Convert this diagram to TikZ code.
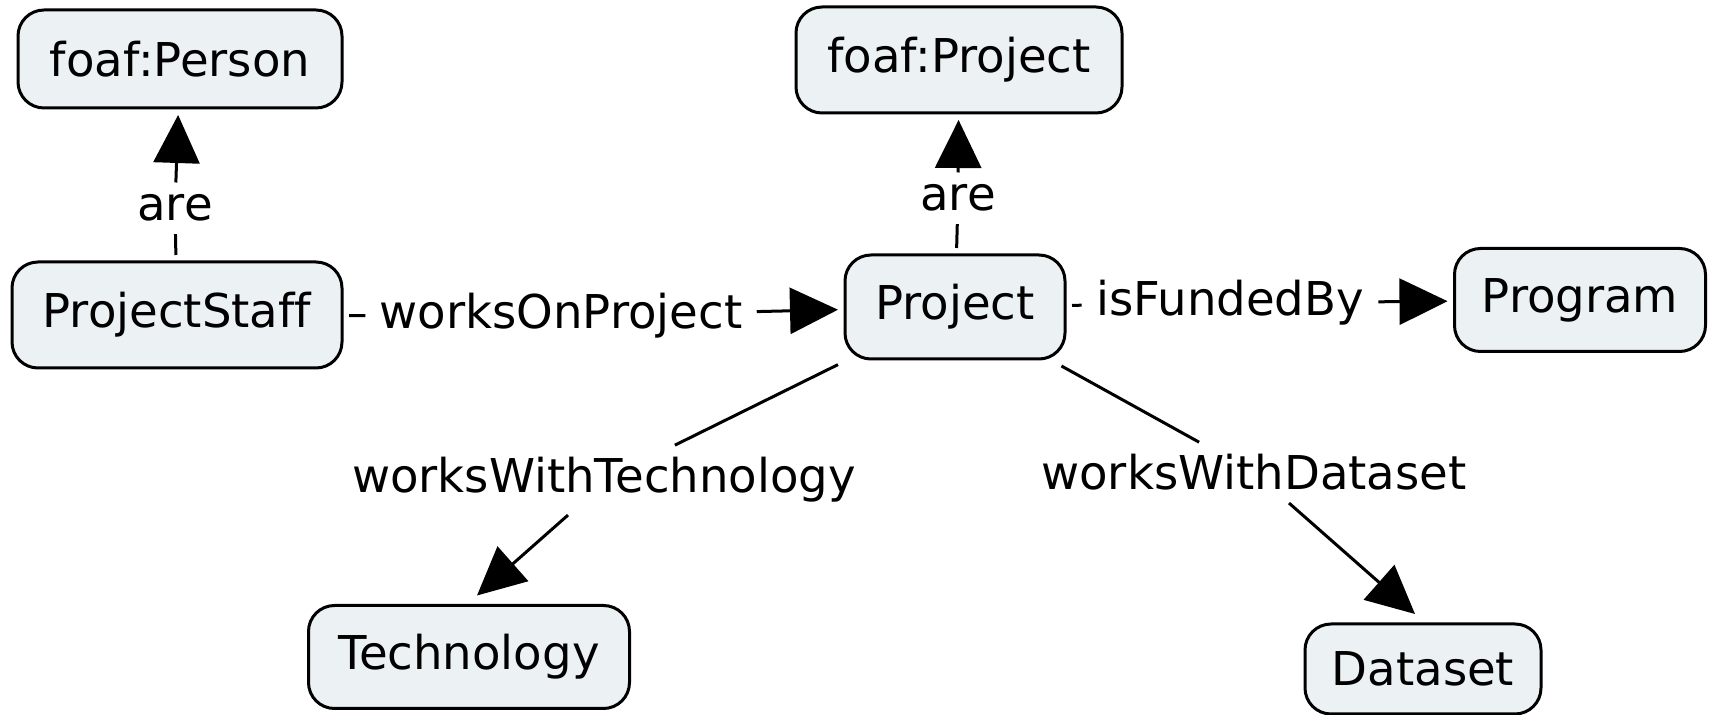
\documentclass[tikz,border=0pt]{standalone}
\usepackage{fontspec}
\setmainfont{DejaVu Sans}[Ligatures=NoCommon]
\usetikzlibrary{arrows.meta,calc}
\definecolor{cfill}{RGB}{236,242,244}
\begin{document}
\begin{tikzpicture}[x=0.5pt,y=-0.5pt,
  concept/.style={draw=black, line width=1.5pt, fill=cfill, rounded corners=13pt, inner sep=0pt, outer sep=3.5pt, font=\fontsize{23.3}{28}\selectfont},
  lbl/.style={inner xsep=7pt, inner ysep=6pt, anchor=base, font=\fontsize{23.3}{28}\selectfont},
  conn/.style={line width=1.5pt},
  arr/.style={conn, -{Triangle[length=24pt,width=23pt]}}]
\useasboundingbox (0,0) rectangle (1709,715);
% concepts
\node[concept, minimum width=162pt, minimum height=49pt] (fPerson) at (180,59) {foaf:Person};
\node[concept, minimum width=165pt, minimum height=53pt] (staff) at (177,315) {ProjectStaff};
\node[concept, minimum width=163pt, minimum height=53pt] (fProject) at (959,60) {foaf:Project};
\node[concept, minimum width=110pt, minimum height=52pt] (project) at (955,307) {Project};
\node[concept, minimum width=125.5pt, minimum height=51.5pt] (program) at (1580,300) {Program};
\node[concept, minimum width=160.5pt, minimum height=51.5pt] (tech) at (469,657) {Technology};
\node[concept, minimum width=118pt, minimum height=45pt] (dataset) at (1423,669) {Dataset};
% labels
\node[lbl] (are1) at (175,221) {are};
\node[lbl] (are2) at (958,211) {are};
\node[lbl] (wop) at (561,329) {worksOnProject};
\node[lbl] (ifb) at (1230,316) {isFundedBy};
\node[lbl] (wwt) at (604,493) {worksWithTechnology};
\node[lbl] (wwd) at (1254,490) {worksWithDataset};
% connectors
\draw[conn] (staff) -- (are1);
\draw[arr] (are1) -- (fPerson);
\draw[conn] (project) -- (are2);
\draw[arr] (are2) -- (fProject);
\draw[conn] (staff) -- (wop);
\draw[arr] (wop) -- (project);
\draw[conn] (project) -- (ifb);
\draw[arr] (ifb) -- (program);
\draw[conn] (project) -- (wwt);
\draw[arr] ($(wwt.south)+(-36,0)$) -- ($(tech.north)+(8,-3)$);
\draw[conn] (project) -- (wwd);
\draw[arr] ($(wwd.south)+(35,0)$) -- ($(dataset.north)+(-8,-3)$);
\end{tikzpicture}
\end{document}
